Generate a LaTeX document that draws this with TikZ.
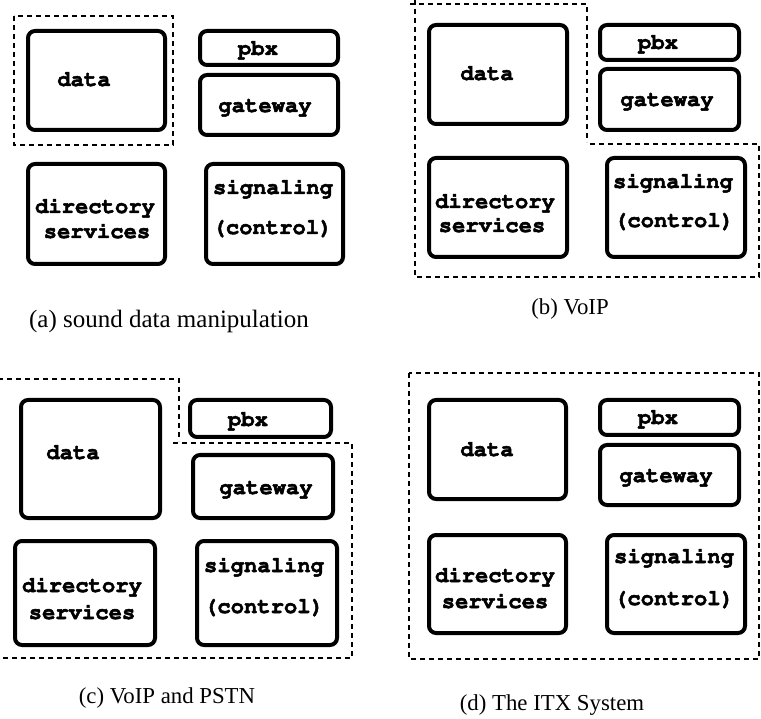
\documentclass[tikz,border=0pt]{standalone}
\usepackage[T1,TU]{fontenc}
\usepackage{fontspec}
\setmainfont{Liberation Serif}
\newcommand\boxfont{\fontencoding{T1}\fontfamily{pcr}\fontseries{b}\selectfont}
% slightly heavier glyphs: fill and stroke the outlines
\newcommand\heavy[1]{\special{pdf:literal direct 2 Tr 0.5 w}#1\special{pdf:literal direct 0 Tr}}
\usetikzlibrary{fit}
\tikzset{
  unit/.style={draw, line width=4pt, rounded corners=7pt, inner sep=0pt},
  lbl/.style={font=\fontsize{22.2}{26}\boxfont, anchor=base, inner sep=0pt,
    execute at begin node=\special{pdf:literal direct 2 Tr 0.5 w},
    execute at end node=\special{pdf:literal direct 0 Tr}},
  subcap/.style={font=\fontsize{22.8}{27}\selectfont, anchor=base, inner sep=0pt},
  group/.style={draw, line width=1.2pt, dash pattern=on 5pt off 4pt},
}
\begin{document}
\begin{tikzpicture}[x=1pt,y=-1pt]
\useasboundingbox (0,0) rectangle (761,719);

% ---------- (a) sound data manipulation ----------
\node[unit, fit={(28,31)(165,130)}] (a-data) {};
\node[unit, fit={(200,31)(338,65)}] (a-pbx) {};
\node[unit, fit={(200,75)(338,135)}] (a-gw) {};
\node[unit, fit={(28,164)(165,264)}] (a-dir) {};
\node[unit, fit={(206,164)(343,264)}] (a-sig) {};
\node[lbl] (a-data-t) at (84,86) {data};
\node[lbl] (a-pbx-t) at (258,55) {pbx};
\node[lbl] (a-gw-t) at (265,112) {gateway};
\node[lbl] (a-dir-t1) at (95,213) {directory};
\node[lbl] (a-dir-t2) at (97,238) {services};
\node[lbl] (a-sig-t1) at (273,194) {signaling};
\node[lbl] (a-sig-t2) at (272.5,234) {(control)};
\draw[group] (14,16) rectangle (173,145);
\node[subcap, font=\fontsize{25}{29}\selectfont] (a-cap) at (169,328) {(a) sound data manipulation};

% ---------- (b) VoIP ----------
\node[unit, fit={(429,25)(567,124)}] (b-data) {};
\node[unit, fit={(600,25)(739,60)}] (b-pbx) {};
\node[unit, fit={(600,69)(739,130)}] (b-gw) {};
\node[unit, fit={(429,158)(567,257)}] (b-dir) {};
\node[unit, fit={(607,158)(745,257)}] (b-sig) {};
\node[lbl] (b-data-t) at (487,80) {data};
\node[lbl] (b-pbx-t) at (658,49) {pbx};
\node[lbl] (b-gw-t) at (667,106) {gateway};
\node[lbl] (b-dir-t1) at (495,208) {directory};
\node[lbl] (b-dir-t2) at (492,232) {services};
\node[lbl] (b-sig-t1) at (673,188) {signaling};
\node[lbl] (b-sig-t2) at (674,227) {(control)};
\draw[group] (415,0) -- (415,277) -- (759,277) -- (759,144) -- (590,144);
\draw[group] (410,4) -- (587,4) -- (587,142);
\node[subcap] (b-cap) at (570,315) {(b) VoIP};

% ---------- (c) VoIP and PSTN ----------
\node[unit, fit={(21,400)(160,518)}] (c-data) {};
\node[unit, fit={(190,400)(331,437)}] (c-pbx) {};
\node[unit, fit={(193,455)(333,518)}] (c-gw) {};
\node[unit, fit={(15,541)(155,645)}] (c-dir) {};
\node[unit, fit={(197,541)(337,645)}] (c-sig) {};
\node[lbl] (c-data-t) at (73,459) {data};
\node[lbl] (c-pbx-t) at (248,426) {pbx};
\node[lbl] (c-gw-t) at (266,494) {gateway};
\node[lbl] (c-dir-t1) at (82,592) {directory};
\node[lbl] (c-dir-t2) at (82,619) {services};
\node[lbl] (c-sig-t1) at (264,572) {signaling};
\node[lbl] (c-sig-t2) at (264,613) {(control)};
\draw[group] (-2,379) -- (179,379) -- (179,441);
\draw[group] (173,443) -- (352,443) -- (352,658) -- (-2,658);
\node[subcap] (c-cap) at (167,703) {(c) VoIP and PSTN};

% ---------- (d) The ITX System ----------
\node[unit, fit={(429,400)(566,499)}] (d-data) {};
\node[unit, fit={(600,400)(739,435)}] (d-pbx) {};
\node[unit, fit={(600,445)(739,505)}] (d-gw) {};
\node[unit, fit={(429,535)(566,633)}] (d-dir) {};
\node[unit, fit={(607,535)(745,633)}] (d-sig) {};
\node[lbl] (d-data-t) at (487,456) {data};
\node[lbl] (d-pbx-t) at (658,424) {pbx};
\node[lbl] (d-gw-t) at (666,482) {gateway};
\node[lbl] (d-dir-t1) at (495,582) {directory};
\node[lbl] (d-dir-t2) at (495,608) {services};
\node[lbl] (d-sig-t1) at (674,563) {signaling};
\node[lbl] (d-sig-t2) at (674,605) {(control)};
\draw[group] (409,373) rectangle (759,659);
\node[subcap] (d-cap) at (552,710) {(d) The ITX System};
\end{tikzpicture}
\end{document}
